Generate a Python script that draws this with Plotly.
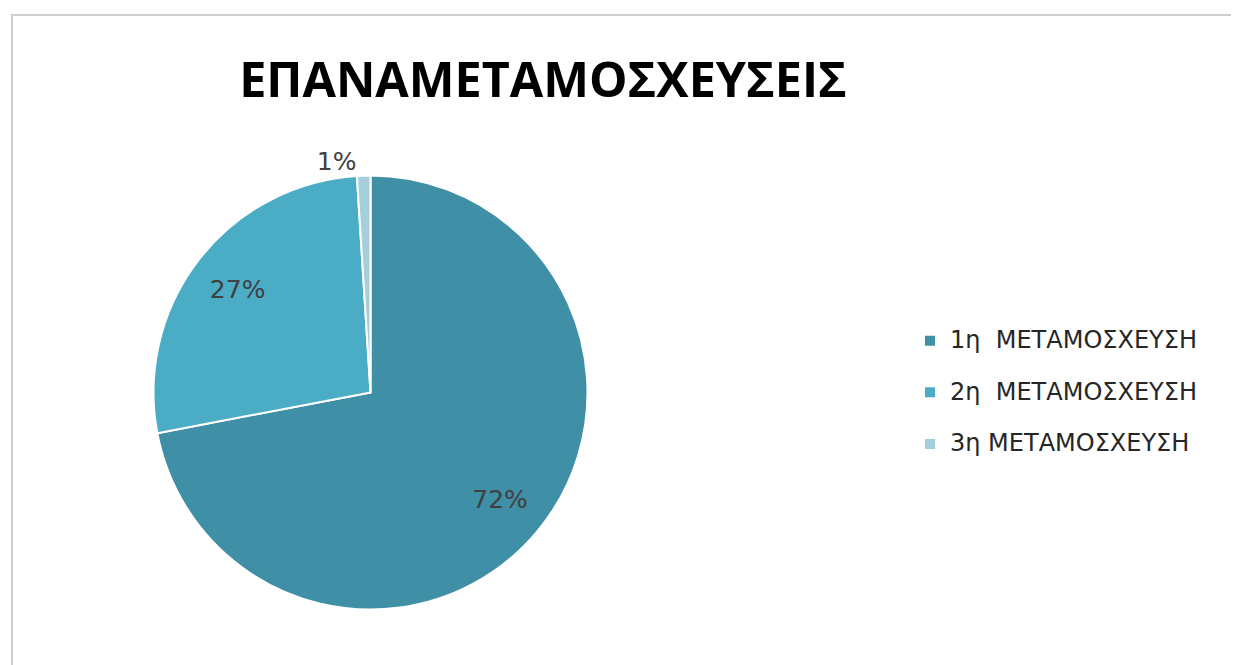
import plotly.graph_objects as go

W, H = 1239, 665
OFF = 8  # default page body margin in the rendered html

labels = ["1η\u00a0 ΜΕΤΑΜΟΣΧΕΥΣΗ", "2η\u00a0 ΜΕΤΑΜΟΣΧΕΥΣΗ", "3η ΜΕΤΑΜΟΣΧΕΥΣΗ"]
values = [72, 27, 1]
colors = ["#3f8fa7", "#4bacc6", "#a6cfdd"]
title_text = "ΕΠΑΝΑΜΕΤΑΜΟΣΧΕΥΣΕΙΣ"

# page-pixel geometry from the reference
cx, cy, r = 370.5 - OFF, 392.5 - OFF, 217


def px_x(x):
    return (x - OFF) / W


def px_y(y):
    return 1 - (y - OFF) / H


domain = dict(x=[(cx - r) / W, (cx + r) / W], y=[(H - cy - r) / H, (H - cy + r) / H])
lab_font = dict(size=25, color="#404040", family="DejaVu Sans")

legend_labels = ["<span style='font-size:24px'>%s</span><br> " % l for l in labels]

fig = go.Figure()
# full pie: slices, borders, legend
fig.add_trace(go.Pie(
    labels=legend_labels,
    values=values,
    sort=False,
    direction="clockwise",
    rotation=0,
    marker=dict(colors=colors, line=dict(color="white", width=2)),
    textinfo="none",
    domain=domain,
    hovertemplate="%{label}: %{percent}<extra></extra>",
    showlegend=True,
))
# transparent ring carrying the percentage labels (places them further out)
fig.add_trace(go.Pie(
    labels=legend_labels,
    values=values,
    sort=False,
    direction="clockwise",
    rotation=0,
    hole=0.55,
    marker=dict(colors=["rgba(0,0,0,0)"] * 3, line=dict(width=0)),
    texttemplate="%{percent:.0%}",
    textposition=["inside", "inside", "outside"],
    insidetextorientation="horizontal",
    textfont=lab_font,
    insidetextfont=lab_font,
    outsidetextfont=lab_font,
    domain=domain,
    hoverinfo="skip",
    showlegend=False,
))

fig.update_layout(
    width=W, height=H,
    margin=dict(l=0, r=0, t=0, b=0),
    paper_bgcolor="white",
    plot_bgcolor="white",
    title=dict(text=title_text, x=px_x(543), y=px_y(80), xanchor="center", yanchor="middle",
               font=dict(family="Open Sans", size=48.5, color="black", weight="bold")),
    legend=dict(x=px_x(910), y=px_y(322), xanchor="left", yanchor="top",
                valign="top",
                font=dict(family="DejaVu Sans", size=18.7, color="#262626"),
                bgcolor="rgba(0,0,0,0)"),
    showlegend=True,
    shapes=[
        dict(type="rect", xref="paper", yref="paper", x0=px_x(12), x1=1.02, y0=-0.05, y1=px_y(15),
             line=dict(color="#cfcfcf", width=2), fillcolor="rgba(0,0,0,0)", layer="below"),
    ],
)

fig.write_html("out.html")
